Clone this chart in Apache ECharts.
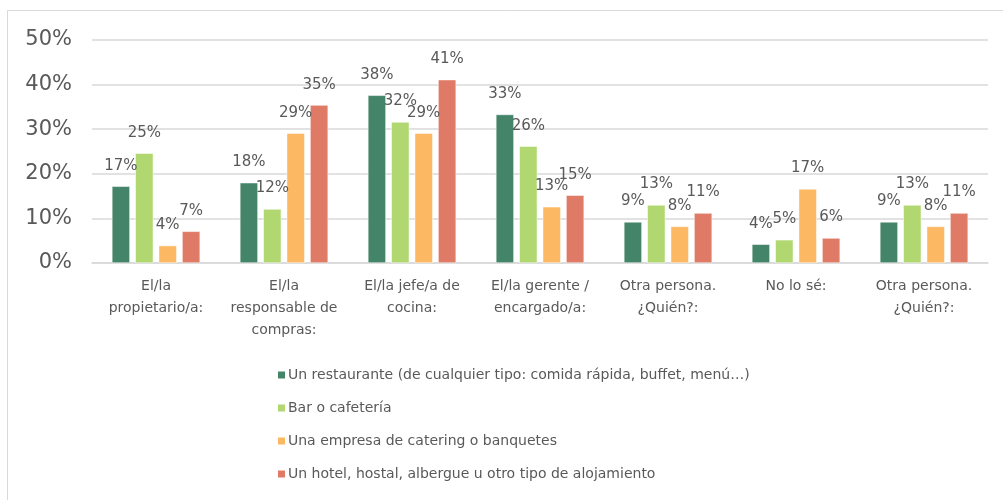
<!DOCTYPE html>
<html>
<head>
<meta charset="utf-8">
<script src="https://cdn.jsdelivr.net/npm/echarts@6/dist/echarts.min.js"></script>
<style>
  html, body { margin: 0; padding: 0; background: #fff; }
  #chart { width: 1003px; height: 500px; }
</style>
</head>
<body>
<div id="chart"></div>
<script>
const categories = [
  'El/la\npropietario/a:',
  'El/la\nresponsable de\ncompras:',
  'El/la jefe/a de\ncocina:',
  'El/la gerente /\nencargado/a:',
  'Otra persona.\n¿Quién?:',
  'No lo sé:',
  'Otra persona.\n¿Quién?:'
]
const seriesNames = [
  'Un restaurante (de cualquier tipo: comida rápida, buffet, menú…)',
  'Bar o cafetería',
  'Una empresa de catering o banquetes',
  'Un hotel, hostal, albergue u otro tipo de alojamiento'
]
const restaurante = [17.2, 18.0, 37.6, 33.3, 9.2, 4.2, 9.2]
const bar = [24.6, 12.1, 31.6, 26.2, 13.0, 5.2, 13.0]
const catering = [3.9, 29.1, 29.1, 12.6, 8.2, 16.6, 8.2]
const hotel = [7.1, 35.4, 41.1, 15.2, 11.2, 5.6, 11.2]
const yTicks = [0, 10, 20, 30, 40, 50]

const colors = ['#44856a', '#b0d770', '#fcb862', '#de7a65']
const textColor = '#595959'
const gridColor = '#d9d9d9'
const font = 'DejaVu Sans'

const chart = echarts.init(document.getElementById('chart'), null, { renderer: 'canvas' })

const makeSeries = (name, data, i) => ({
  name,
  type: 'bar',
  data,
  barWidth: 18,
  barGap: '30%',
  itemStyle: { color: colors[i], borderColor: '#fff', borderWidth: 0.5 },
  label: {
    show: true,
    position: 'top',
    distance: 13,
    color: textColor,
    fontFamily: font,
    fontSize: 15,
    formatter: (p) => `${Math.round(p.value)}%`
  }
})

chart.setOption({
  backgroundColor: '#fff',
  animation: false,
  color: colors,
  graphic: [{
    type: 'rect',
    shape: { x: 7.5, y: 10.5, width: 1010, height: 520 },
    style: { fill: 'none', stroke: gridColor, lineWidth: 1 },
    silent: true
  }],
  grid: { left: 92, right: 15, top: 40, bottom: 237, containLabel: false },
  legend: {
    orient: 'vertical',
    left: 276,
    top: 368,
    padding: 0,
    itemWidth: 9,
    itemHeight: 9,
    itemGap: 19,
    icon: 'rect',
    data: seriesNames,
    textStyle: { color: textColor, fontFamily: font, fontSize: 14, padding: [0, 0, 0, -3] }
  },
  xAxis: {
    type: 'category',
    data: categories,
    axisLine: { lineStyle: { color: gridColor, width: 1.5 } },
    axisTick: { show: false },
    axisLabel: {
      color: textColor,
      fontFamily: font,
      fontSize: 14,
      lineHeight: 22,
      margin: 12,
      interval: 0
    }
  },
  yAxis: {
    type: 'value',
    min: yTicks[0],
    max: yTicks[yTicks.length - 1],
    interval: 10,
    axisLine: { show: false },
    axisTick: { show: false },
    axisLabel: {
      color: textColor,
      fontFamily: font,
      fontSize: 21,
      margin: 20,
      formatter: (v) => `${v}%`
    },
    splitLine: { lineStyle: { color: gridColor, width: 1.5 } }
  },
  series: [
    makeSeries(seriesNames[0], restaurante, 0),
    makeSeries(seriesNames[1], bar, 1),
    makeSeries(seriesNames[2], catering, 2),
    makeSeries(seriesNames[3], hotel, 3)
  ]
})
</script>
</body>
</html>
